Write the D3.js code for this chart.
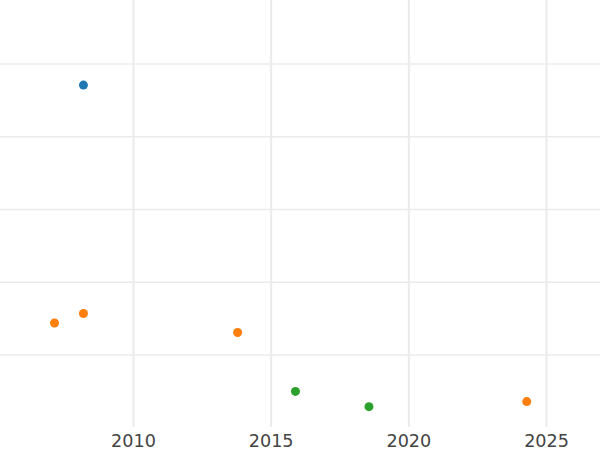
<!DOCTYPE html>
<html>
<head>
<meta charset="utf-8">
<script src="https://cdn.jsdelivr.net/npm/d3@7"></script>
<style>
  body { margin: 0; background: #fff; }
  .tick text { font-family: "DejaVu Sans", sans-serif; }
</style>
</head>
<body>
<div class="chart"></div>
<script>
// data
var blueYears = [2008.2];
var blueValues = [4.71];
var orangeYears = [2007.15, 2008.2, 2013.8, 2024.3];
var orangeValues = [1.44, 1.57, 1.31, 0.36];
var greenYears = [2015.9, 2018.57];
var greenValues = [0.50, 0.29];
var xTicks = [2010, 2015, 2020, 2025];
var yTicks = [1, 2, 3, 4, 5];

var series = [
  {color: "#1f77b4", x: blueYears, y: blueValues},
  {color: "#ff7f0e", x: orangeYears, y: orangeValues},
  {color: "#2ca02c", x: greenYears, y: greenValues}
];

var width = 600, height = 450;
var plotH = 427;

var svg = d3.select(".chart").append("svg")
    .attr("width", width)
    .attr("height", height);

var x = d3.scaleLinear()
    .domain([2005.17, 2026.96])
    .range([0, width]);

var y = d3.scaleLinear()
    .domain([0.0, 5.873])
    .range([427.75, 0.5]);

// horizontal grid
svg.append("g")
    .selectAll("line")
    .data(yTicks)
    .enter().append("line")
    .attr("x1", 0)
    .attr("x2", width)
    .attr("y1", function(d) { return y(d) })
    .attr("y2", function(d) { return y(d) })
    .attr("stroke", "#ebebeb")
    .attr("stroke-width", 1.6);

// x axis with grid lines
var xAxis = svg.append("g")
    .attr("transform", "translate(0," + plotH + ")")
    .call(d3.axisBottom(x).tickValues(xTicks).tickFormat(d3.format("d"))
        .tickSize(-plotH).tickPadding(8));
xAxis.select(".domain").remove();
xAxis.selectAll(".tick line")
    .attr("stroke", "#ebebeb")
    .attr("stroke-width", 2);
xAxis.selectAll(".tick text")
    .attr("fill", "#444")
    .style("font-size", "17.6px");

// points
series.forEach(function(s) {
  svg.append("g")
      .selectAll("circle")
      .data(s.x.map(function(d, i) { return {x: d, y: s.y[i]} }))
      .enter().append("circle")
      .attr("cx", function(d) { return x(d.x) })
      .attr("cy", function(d) { return y(d.y) })
      .attr("r", 4.5)
      .attr("fill", s.color);
});
</script>
</body>
</html>
